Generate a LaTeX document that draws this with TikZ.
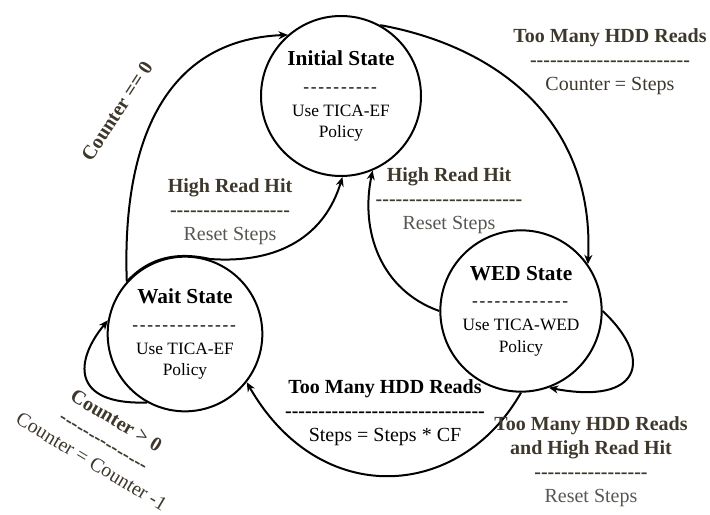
\documentclass[tikz,border=0pt]{standalone}
\usepackage{fontspec}
\setmainfont{Liberation Serif}
\usepackage{xcolor}
\usetikzlibrary{arrows.meta}

\definecolor{lblbrown}{RGB}{62,56,44}
\definecolor{stepgray}{RGB}{88,86,80}

% a row of single hyphens (no en-dash ligature)
\newcommand{\dashrow}[2][0pt]{\foreach\k in {1,...,#2}{-\kern#1}}

\begin{document}
\begin{tikzpicture}[
    x=0.75pt, y=-0.75pt,
    state/.style={circle, draw=black, line width=1.5pt, minimum size=120pt, inner sep=0pt, align=center, font=\fontsize{13}{16}\selectfont},
    edge/.style={-{Stealth[length=7pt,width=6pt]}, line width=1.5pt},
    lbl/.style={align=center, text=lblbrown, font=\fontsize{15}{18}\selectfont}
]
    \useasboundingbox (0,0) rectangle (710,514);

    % States
    \node[state] (init) at (341,96) {{\fontsize{16}{16}\selectfont\bfseries Initial State}\\[4pt] \dashrow[1.3pt]{10}\\[2pt] Use TICA-EF\\ Policy};
    \node[state, minimum size=116pt] (wait) at (185,334) {{\fontsize{16}{16}\selectfont\bfseries Wait State}\\[4pt] \dashrow[1.3pt]{14}\\[2pt] Use TICA-EF\\ Policy};
    \node[state, minimum size=121pt] (wed) at (521,311) {{\fontsize{16}{16}\selectfont\bfseries WED State}\\[4pt] \dashrow[1.3pt]{13}\\[2pt] Use TICA-WED\\ Policy};

    % Transitions into the initial state
    \draw[edge] (wait.138) .. controls (122,150) and (160,40) .. (init.131);
    \draw[edge] (wait.138) .. controls (145,262) and (170,250) .. (210,259)
        .. controls (280,264) and (325,235) .. (init.271);
    \draw[edge] (wed.180) .. controls (380,290) and (360,230) .. (init.293);

    % Initial -> WED
    \draw[edge] (init.61) .. controls (490,45) and (595,115) .. (wed.35);

    % WED -> Wait
    \draw[edge] (wed.270) .. controls (460,500) and (320,510) .. (wait.322);

    % Self loops
    \draw[edge] (wed.0) .. controls (655,360) and (640,405) .. (wed.290);
    \draw[edge] (wait.241) .. controls (70,405) and (75,360) .. (wait.170);

    % Labels
    \node[lbl, rotate=57] (lzero) at (117,111) {\textbf{Counter == 0}};
    \node[lbl] (lhitl) at (230,212) {\textbf{High Read Hit}\\ \textbf{\dashrow{18}}\\ {\color{stepgray}Reset Steps}};
    \node[lbl] (lhitr) at (449,201) {\textbf{High Read Hit}\\ \textbf{\dashrow{22}}\\ {\color{stepgray}Reset Steps}};
    \node[lbl] (lsteps) at (610,62) {\textbf{Too Many HDD Reads}\\ \textbf{\dashrow{24}}\\ Counter = Steps};
    \node[lbl, text=black] (lcf) at (385,413) {\textbf{Too Many HDD Reads}\\ \textbf{\dashrow{30}}\\ Steps = Steps * CF};
    \node[lbl] (lboth) at (591,462) {\textbf{Too Many HDD Reads}\\ \textbf{and High Read Hit}\\ \textbf{\dashrow{17}}\\ {\color{stepgray}Reset Steps}};
    \node[lbl, rotate=-31] (lcount) at (104,441) {\textbf{Counter > 0}\\ \textbf{\dashrow{15}}\\ Counter = Counter -1};
\end{tikzpicture}
\end{document}
